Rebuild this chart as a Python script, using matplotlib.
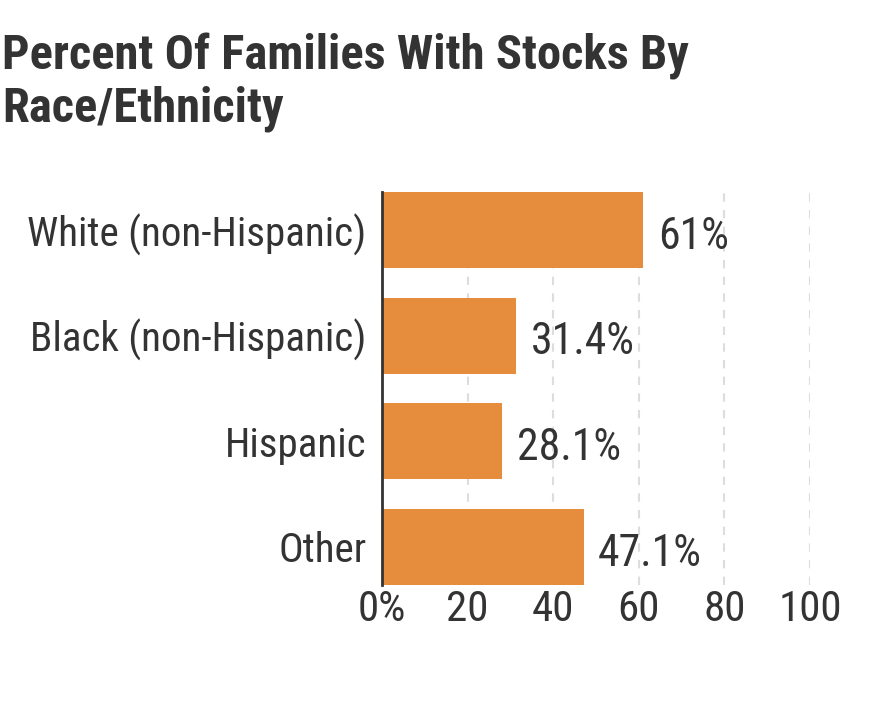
import matplotlib
matplotlib.use("Agg")
import matplotlib.pyplot as plt
from matplotlib import font_manager

# data
categories = ["White (non-Hispanic)", "Black (non-Hispanic)", "Hispanic", "Other"]
values = [61, 31.4, 28.1, 47.1]
value_labels = ["61%", "31.4%", "28.1%", "47.1%"]
x_ticks = [0, 20, 40, 60, 80, 100]
x_tick_labels = ["0%", "20", "40", "60", "80", "100"]

# pick a narrow font if one is installed
names = {f.name for f in font_manager.fontManager.ttflist}
fams = [n for n in ["Liberation Sans Narrow", "Roboto Condensed", "Roboto", "DejaVu Sans"] if n in names]
plt.rcParams["font.family"] = fams

text_col = "#333333"
bar_col = "#E68C3D"

fig = plt.figure(figsize=(8.8, 7.04), dpi=100)
ax = fig.add_axes([382 / 880, 1 - 585 / 704, (810 - 382) / 880, (585 - 192) / 704])

ypos = list(range(len(categories)))
ax.barh(ypos, values, height=0.72, color=bar_col, zorder=2)

for y, v, lab in zip(ypos, values, value_labels):
    ax.annotate(lab, (v, y), xytext=(10.5, -13.5), textcoords="offset points",
                ha="left", va="baseline", fontsize=31.5, color=text_col)

ax.set_xlim(0, 100)
ax.set_ylim(len(categories) - 1 + 0.36, -0.36)
ax.set_yticks(ypos)
ax.set_yticklabels(categories, fontsize=29.5)
ax.set_xticks(x_ticks)
ax.set_xticklabels(x_tick_labels, fontsize=31)
ax.tick_params(axis="both", length=0, labelcolor=text_col)
ax.tick_params(axis="y", pad=11)
ax.tick_params(axis="x", pad=3)

for t in x_ticks[1:]:
    ax.axvline(t, color="#dddddd", linestyle=(0, (4, 4)), linewidth=1.5, zorder=1)

for s in ["top", "right", "bottom"]:
    ax.spines[s].set_visible(False)
ax.spines["left"].set_color(text_col)
ax.spines["left"].set_linewidth(2)
ax.spines["left"].set_zorder(3)

# title, one line at a time so the baselines land where they should
fig.text(2 / 880, 1 - 70 / 704, "Percent Of Families With Stocks By",
         ha="left", va="baseline", fontsize=35, fontweight="bold", color=text_col)
fig.text(2 / 880, 1 - 121 / 704, "Race/Ethnicity",
         ha="left", va="baseline", fontsize=35, fontweight="bold", color=text_col)

fig.savefig("out.png", dpi=100, facecolor="white")
